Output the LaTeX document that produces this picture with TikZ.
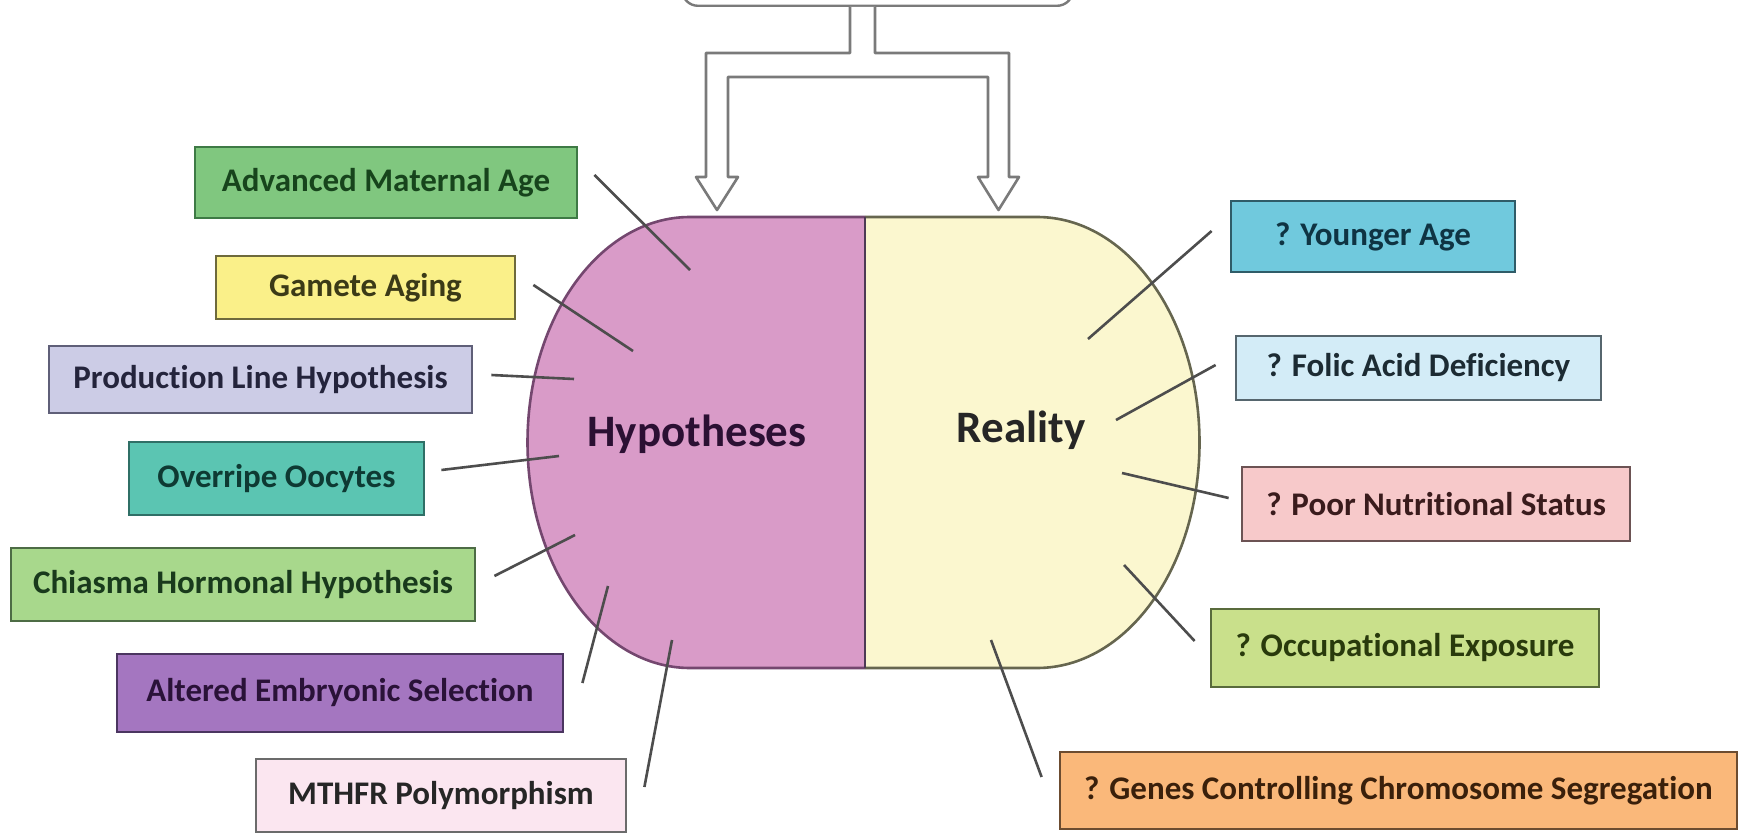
\documentclass[tikz,border=0pt]{standalone}
\usepackage{fontspec}
\setmainfont[Ligatures={NoCommon,NoRequired,NoContextual}]{Carlito}
\usetikzlibrary{calc}

\definecolor{amafill}{HTML}{80C77F}\definecolor{amaedge}{HTML}{3E7A45}\definecolor{amatext}{HTML}{17441C}
\definecolor{gamfill}{HTML}{FAF089}\definecolor{gamedge}{HTML}{6E6A3C}\definecolor{gamtext}{HTML}{3B3A17}
\definecolor{profill}{HTML}{CCCCE6}\definecolor{proedge}{HTML}{5F5F78}\definecolor{protext}{HTML}{24243C}
\definecolor{ovrfill}{HTML}{5BC5B2}\definecolor{ovredge}{HTML}{2F6F66}\definecolor{ovrtext}{HTML}{0E3A33}
\definecolor{chifill}{HTML}{A8D88C}\definecolor{chiedge}{HTML}{4D6C45}\definecolor{chitext}{HTML}{193A1C}
\definecolor{altfill}{HTML}{A476C0}\definecolor{altedge}{HTML}{4B3560}\definecolor{alttext}{HTML}{2A1238}
\definecolor{mthfill}{HTML}{FBE6F0}\definecolor{mthedge}{HTML}{6B6B6B}\definecolor{mthtext}{HTML}{262626}
\definecolor{youfill}{HTML}{70C9DD}\definecolor{youedge}{HTML}{2F5C68}\definecolor{youtext}{HTML}{0F3443}
\definecolor{folfill}{HTML}{D3ECF7}\definecolor{foledge}{HTML}{56666E}\definecolor{foltext}{HTML}{1C2B33}
\definecolor{poofill}{HTML}{F7C9CA}\definecolor{pooedge}{HTML}{6C5354}\definecolor{pootext}{HTML}{3A1B1C}
\definecolor{occfill}{HTML}{C9E08B}\definecolor{occedge}{HTML}{596B3C}\definecolor{occtext}{HTML}{293A0C}
\definecolor{genfill}{HTML}{FAB87A}\definecolor{genedge}{HTML}{6C4C30}\definecolor{gentext}{HTML}{3A200B}
\definecolor{hypfill}{HTML}{D99BC8}\definecolor{realfill}{HTML}{FBF7CF}
\definecolor{hypedge}{HTML}{74476F}\definecolor{realedge}{HTML}{66664F}
\definecolor{divcol}{HTML}{4E3A55}\definecolor{hyptext}{HTML}{2B1033}
\definecolor{linkgray}{HTML}{4D4D4D}\definecolor{arrowgray}{HTML}{7A7A7A}

\begin{document}
\begin{tikzpicture}[
    x=0.5pt, y=-0.5pt,
    cause/.style={draw, rectangle, line width=1.4pt, inner sep=0pt, font=\fontsize{16.5}{20}\selectfont\bfseries},
    link/.style={draw=linkgray, line width=1.3pt},
    side/.style={font=\fontsize{22.5}{27}\selectfont\bfseries},
    bigarrow/.style={draw=arrowgray, fill=white, line width=1.3pt, line join=round}
]
\clip (0,0) rectangle (1744,834);
\fill[white] (0,0) rectangle (1744,834);

% Capsule: two half ellipses
\filldraw[fill=hypfill, draw=hypedge, line width=1.3pt] (865,217) -- (690,217)
    .. controls (600,217) and (527.5,318) .. (527.5,442.5)
    .. controls (527.5,567) and (600,668) .. (690,668) -- (865,668);
\filldraw[fill=realfill, draw=realedge, line width=1.3pt] (865,217) -- (1037,217)
    .. controls (1127,217) and (1199.5,318) .. (1199.5,442.5)
    .. controls (1199.5,567) and (1127,668) .. (1037,668) -- (865,668);
\draw[divcol, line width=1.2pt] (865,217) -- (865,668);

\node[side, text=hyptext] (hyp) at (697,434) {Hypotheses};
\node[side, text=black!85] (real) at (1021,430) {Reality};

% Source box and split arrow
\node[draw=arrowgray, line width=1.2pt, rounded corners=8pt, fill=white,
    minimum width=195.5pt, minimum height=40pt, anchor=south] (source) at (877.5,7) {};
\draw[bigarrow] ($(source.south)+(-27.5,0)$) -- ++(0,46) -- ++(-144,0) -- ++(0,124)
    -- ++(-10,0) -- ++(21,33) -- ++(21,-33) -- ++(-10,0) -- ++(0,-100) -- ++(260,0)
    -- ++(0,100) -- ++(-10,0) -- ++(20.5,33) -- ++(20.5,-33) -- ++(-10,0) -- ++(0,-124)
    -- ++(-134,0) -- ++(0,-46);

% Hypotheses
\node[cause, fill=amafill, draw=amaedge, text=amatext, minimum width=191pt, minimum height=35.5pt] (age) at (386,182.5) {Advanced Maternal Age};
\node[cause, fill=gamfill, draw=gamedge, text=gamtext, minimum width=149.5pt, minimum height=31.5pt] (gamete) at (365.5,287.5) {Gamete Aging};
\node[cause, fill=profill, draw=proedge, text=protext, minimum width=211.5pt, minimum height=33.5pt] (prodline) at (260.5,379.5) {Production Line Hypothesis};
\node[cause, fill=ovrfill, draw=ovredge, text=ovrtext, minimum width=147.5pt, minimum height=36.5pt] (overripe) at (276.5,478.5) {Overripe Oocytes};
\node[cause, fill=chifill, draw=chiedge, text=chitext, minimum width=232pt, minimum height=36.5pt] (chiasma) at (243,584.5) {Chiasma Hormonal Hypothesis};
\node[cause, fill=altfill, draw=altedge, text=alttext, minimum width=223pt, minimum height=39pt] (embryo) at (340,693) {Altered Embryonic Selection};
\node[cause, fill=mthfill, draw=mthedge, text=mthtext, minimum width=185pt, minimum height=36.5pt] (mthfr) at (441,795.5) {MTHFR Polymorphism};

% Reality
\node[cause, fill=youfill, draw=youedge, text=youtext, minimum width=142pt, minimum height=35.5pt] (younger) at (1373,236.5) {? Younger Age};
\node[cause, fill=folfill, draw=foledge, text=foltext, minimum width=182.5pt, minimum height=32pt] (folic) at (1418.5,368) {? Folic Acid Deficiency};
\node[cause, fill=poofill, draw=pooedge, text=pootext, minimum width=194pt, minimum height=37pt] (nutrition) at (1436,504) {? Poor Nutritional Status};
\node[cause, fill=occfill, draw=occedge, text=occtext, minimum width=194pt, minimum height=39pt] (occup) at (1405,648) {? Occupational Exposure};
\node[cause, fill=genfill, draw=genedge, text=gentext, minimum width=338.5pt, minimum height=38.5pt] (genes) at (1398.5,790.5) {? Genes Controlling Chromosome Segregation};

% Inner ends
\coordinate (h1) at (690,270);
\coordinate (h2) at (633,351);
\coordinate (h3) at (574,379);
\coordinate (h4) at (559,456);
\coordinate (h5) at (575,535);
\coordinate (h6) at (608,586);
\coordinate (h7) at (672,640);
\coordinate (r1) at (1088,339);
\coordinate (r2) at (1116,420);
\coordinate (r3) at (1122,473);
\coordinate (r4) at (1124,565);
\coordinate (r5) at (991,640);

% Links
\draw[link] ($(age.east)+(16,-7.5)$) -- (h1);
\draw[link] ($(gamete.east)+(17,-2.5)$) -- (h2);
\draw[link] ($(prodline.east)+(18,-4.5)$) -- (h3);
\draw[link] ($(overripe.east)+(16,-8.5)$) -- (h4);
\draw[link] ($(chiasma.east)+(18,-8.5)$) -- (h5);
\draw[link] ($(embryo.east)+(18,-10)$) -- (h6);
\draw[link] ($(mthfr.east)+(17,-8.5)$) -- (h7);
\draw[link] ($(younger.west)+(-18,-5.5)$) -- (r1);
\draw[link] ($(folic.west)+(-19,-3)$) -- (r2);
\draw[link] ($(nutrition.west)+(-12,-6)$) -- (r3);
\draw[link] ($(occup.west)+(-15,-7)$) -- (r4);
\draw[link] ($(genes.west)+(-17,-13.5)$) -- (r5);
\end{tikzpicture}
\end{document}
